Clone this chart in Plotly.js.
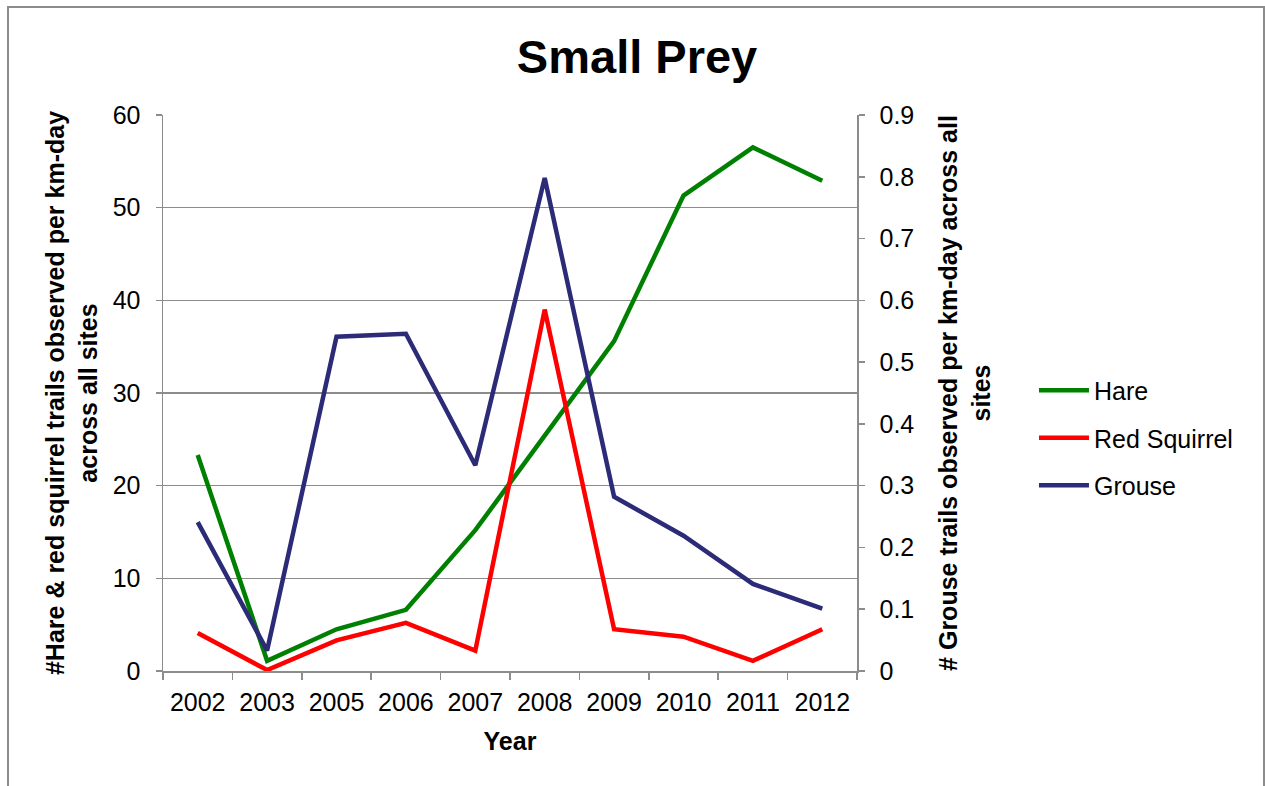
<!DOCTYPE html>
<html>
<head>
<meta charset="utf-8">
<script src="https://cdn.plot.ly/plotly-3.0.1.min.js"></script>
<style>
  html, body { margin: 0; padding: 0; background: #fff; }
  #wrap { position: relative; width: 1265px; height: 786px; }
  #chart { width: 1265px; height: 786px; }
  #frame { position: absolute; left: 7px; top: 6px; width: 1254px; height: 800px;
           border-left: 2px solid #8c8c8c; border-top: 2px solid #8c8c8c; border-right: 2px solid #8c8c8c;
           pointer-events: none; }
</style>
</head>
<body>
<div id="wrap">
  <div id="chart"></div>
  <div id="frame"></div>
</div>
<script>
// Categories (years)
const years = ["2002", "2003", "2005", "2006", "2007", "2008", "2009", "2010", "2011", "2012"];
// Hare trails per km-day (left axis)
const hare = [23.3, 1.1, 4.5, 6.6, 15.2, 25.3, 35.6, 51.3, 56.5, 52.9];
// Red squirrel trails per km-day (left axis)
const redSquirrel = [4.1, 0.1, 3.3, 5.2, 2.2, 39.0, 4.5, 3.7, 1.1, 4.5];
// Grouse trails per km-day (right axis)
const grouse = [0.241, 0.033, 0.541, 0.546, 0.333, 0.798, 0.282, 0.219, 0.141, 0.101];

const leftTicks = [0, 10, 20, 30, 40, 50, 60];
const rightTicks = [0, 0.1, 0.2, 0.3, 0.4, 0.5, 0.6, 0.7, 0.8, 0.9];
const rightTickText = ["0", "0.1", "0.2", "0.3", "0.4", "0.5", "0.6", "0.7", "0.8", "0.9"];

const FONT = "Liberation Sans, Arial, sans-serif";
const axisGray = "#8c8c8c";

const traces = [
  { x: years, y: hare, name: "Hare", type: "scatter", mode: "lines",
    line: { color: "#008000", width: 4.5 }, yaxis: "y", legendgroup: "a" },
  { x: years, y: redSquirrel, name: "Red Squirrel", type: "scatter", mode: "lines",
    line: { color: "#ff0000", width: 4.5 }, yaxis: "y", legendgroup: "b" },
  { x: years, y: grouse, name: "Grouse", type: "scatter", mode: "lines",
    line: { color: "#2b2b78", width: 4.5 }, yaxis: "y2", legendgroup: "c" }
];

const layout = {
  width: 1265, height: 786,
  paper_bgcolor: "#ffffff", plot_bgcolor: "#ffffff",
  margin: { l: 163, r: 408, t: 115, b: 115, pad: 0 },
  font: { family: FONT, color: "#000000", size: 25 },
  title: { text: "<b>Small Prey</b>", font: { family: FONT, size: 47, color: "#000" },
           x: 0.5036, xref: "container", y: 0.9275, yref: "container", yanchor: "middle", xanchor: "center" },
  showlegend: true,
  legend: { x: 1.255, xanchor: "left", y: 0.419, yanchor: "middle",
            font: { family: FONT, size: 25, color: "#000" },
            traceorder: "grouped", tracegroupgap: 12, itemwidth: 50, bgcolor: "rgba(0,0,0,0)" },
  xaxis: {
    type: "category", categoryorder: "array", categoryarray: years,
    range: [-0.5, years.length - 0.5],
    showline: true, linecolor: axisGray, linewidth: 1.5,
    ticks: "outside", tickson: "boundaries", ticklen: 7, tickcolor: axisGray, tickwidth: 1.5,
    showgrid: false, zeroline: false,
    tickfont: { family: FONT, size: 25, color: "#000" },
    ticklabelstandoff: 8,
    title: { text: "<b>Year</b>", font: { family: FONT, size: 25, color: "#000" }, standoff: 18 },
    fixedrange: true
  },
  yaxis: {
    range: [0, 60], tickvals: leftTicks, ticktext: leftTicks.map(String),
    showline: true, linecolor: axisGray, linewidth: 1.5,
    ticks: "outside", ticklen: 6, tickcolor: axisGray, tickwidth: 1.5,
    showgrid: true, gridcolor: axisGray, gridwidth: 1.3, zeroline: false,
    tickfont: { family: FONT, size: 25, color: "#000" },
    ticklabelstandoff: 10,
    title: { text: "<b>#Hare & red squirrel trails observed per km-day<br>across all sites</b>",
             font: { family: FONT, size: 25, color: "#000" }, standoff: 8 },
    fixedrange: true
  },
  yaxis2: {
    overlaying: "y", side: "right", range: [0, 0.9],
    tickvals: rightTicks, ticktext: rightTickText,
    showline: true, linecolor: axisGray, linewidth: 1.5,
    ticks: "outside", ticklen: 6, tickcolor: axisGray, tickwidth: 1.5,
    showgrid: false, zeroline: false,
    tickfont: { family: FONT, size: 25, color: "#000" },
    ticklabelstandoff: 10,
    title: { text: "<b># Grouse trails observed per km-day across all<br>sites</b>",
             font: { family: FONT, size: 25, color: "#000" }, standoff: 26 },
    fixedrange: true
  }
};

Plotly.newPlot("chart", traces, layout, { displayModeBar: false, staticPlot: true });
</script>
</body>
</html>
